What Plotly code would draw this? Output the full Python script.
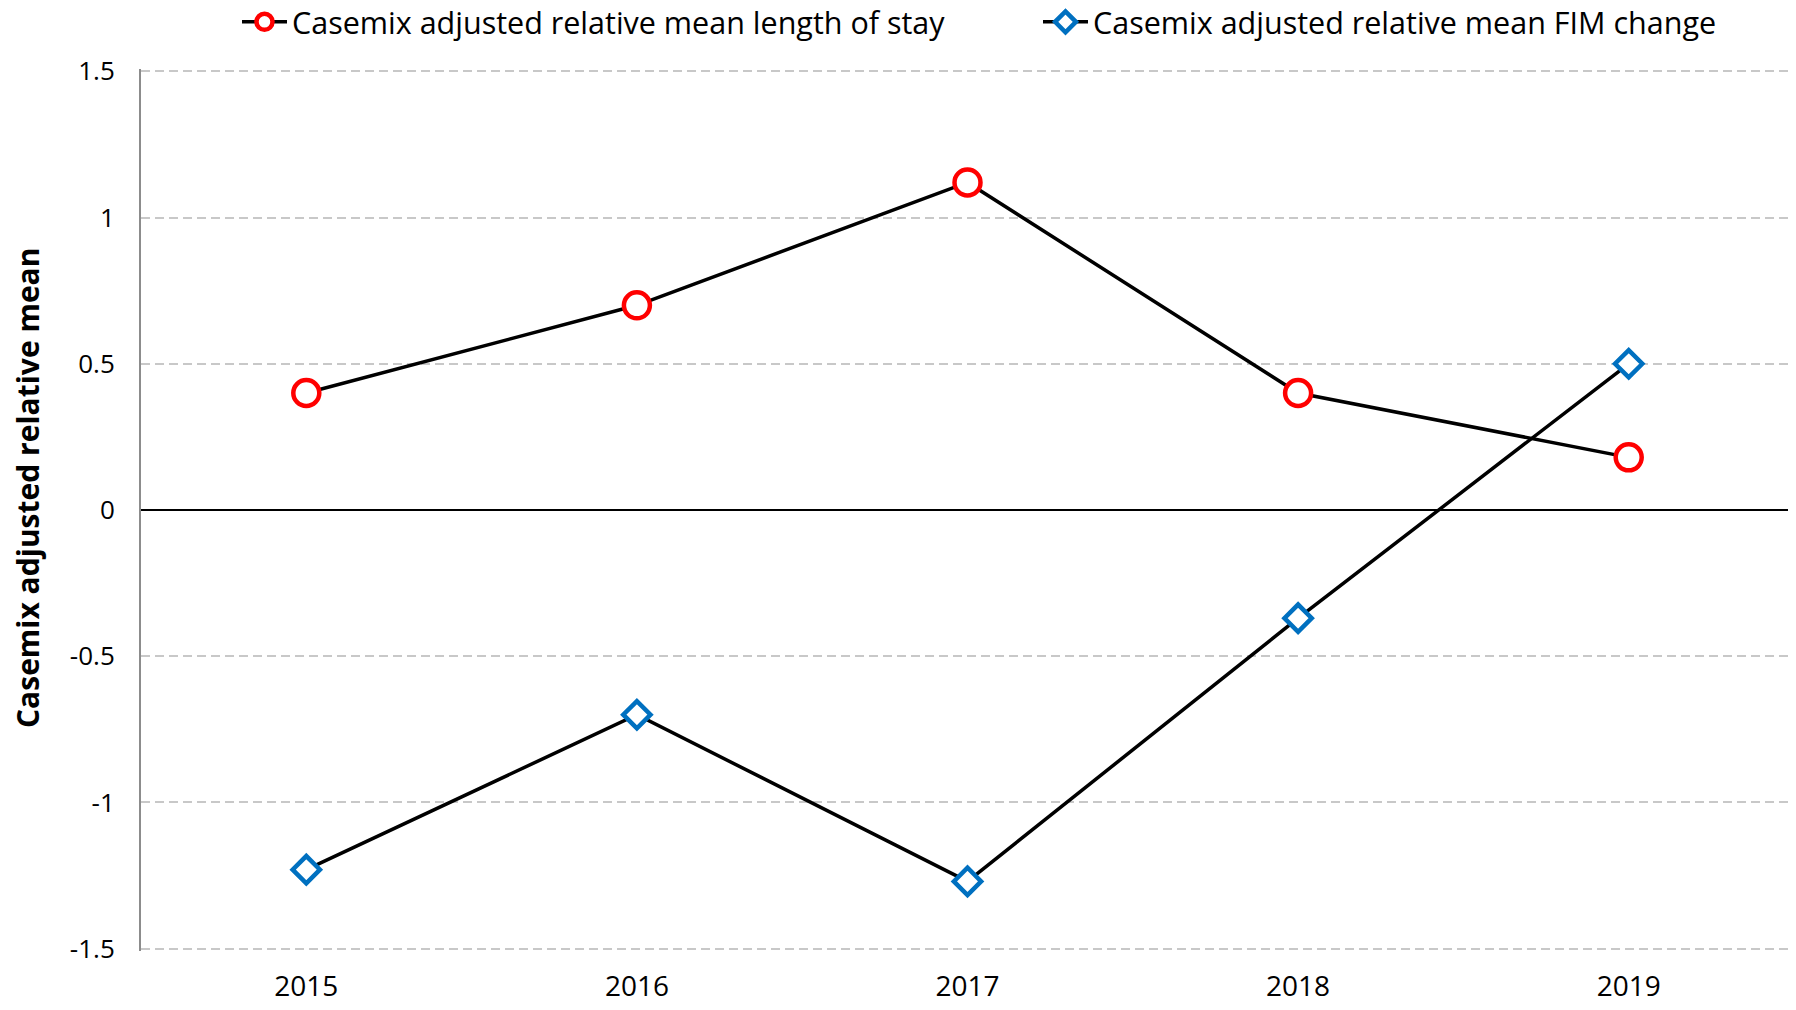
import plotly.graph_objects as go

years = ["2015", "2016", "2017", "2018", "2019"]
los_values = [0.40, 0.70, 1.12, 0.40, 0.18]
fim_values = [-1.23, -0.70, -1.27, -0.37, 0.50]
los_name = "Casemix adjusted relative mean length of stay"
fim_name = "Casemix adjusted relative mean FIM change"
y_tickvals = [1.5, 1, 0.5, 0, -0.5, -1, -1.5]
y_ticktext = ["1.5", "1", "0.5", "0", "-0.5", "-1", "-1.5"]
y_title = "Casemix adjusted relative mean"

FONT = "Open Sans"
W, H = 1788, 1002  # page body has an 8px margin

fig = go.Figure()
fig.add_trace(go.Scatter(
    x=years, y=los_values, name=los_name, mode="lines+markers",
    line=dict(color="black", width=3.5),
    marker=dict(symbol="circle", size=26, color="white",
                line=dict(color="#ff0000", width=4.5)),
    legend="legend",
))
fig.add_trace(go.Scatter(
    x=years, y=fim_values, name=fim_name, mode="lines+markers",
    line=dict(color="black", width=3.5),
    marker=dict(symbol="diamond", size=21, color="white",
                line=dict(color="#0070c0", width=4.5)),
    legend="legend2",
))

leg_common = dict(orientation="h", yref="container", y=1 - 14 / H, yanchor="middle",
                  xref="container", xanchor="left", itemwidth=45,
                  font=dict(size=30.5, family=FONT), bgcolor="rgba(0,0,0,0)")

fig.update_layout(
    width=W, height=H,
    paper_bgcolor="white", plot_bgcolor="white",
    margin=dict(l=133, r=2, t=61, b=59, autoexpand=False),
    font=dict(family=FONT, size=24, color="black"),
    showlegend=True,
    legend=dict(x=229 / W, **leg_common),
    legend2=dict(x=1030 / W, **leg_common),
    xaxis=dict(type="category", range=[-0.5, 4.5], showgrid=False, showline=False,
               zeroline=False, ticks="", ticklabelstandoff=16,
               tickfont=dict(size=28, family=FONT)),
    yaxis=dict(range=[-1.508, 1.508], tickvals=y_tickvals, ticktext=y_ticktext,
               showgrid=True, gridcolor="#c8c8c8", gridwidth=2, griddash="9px,5px",
               zeroline=True, zerolinecolor="black", zerolinewidth=2,
               showline=True, linecolor="#8c8c8c", linewidth=2,
               ticks="", ticklabelstandoff=19, automargin=False,
               tickfont=dict(size=26, family=FONT)),
    annotations=[dict(text="<b>" + y_title + "</b>", xref="paper", yref="paper",
                      x=(19 - 133) / (W - 135), y=(H - 59 - 480) / (H - 120),
                      xanchor="center", yanchor="middle", textangle=-90, showarrow=False,
                      font=dict(size=30, family=FONT, color="black"))],
)

fig.write_html("out.html")
